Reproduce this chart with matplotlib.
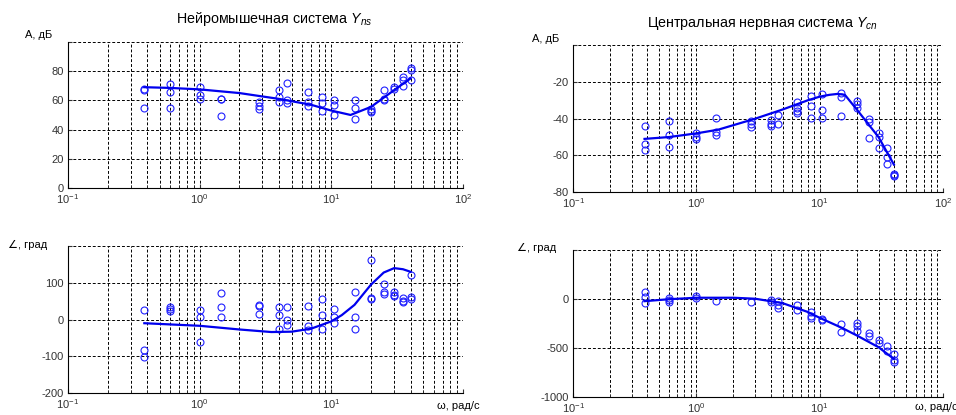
import matplotlib
matplotlib.use("Agg")
import matplotlib.pyplot as plt
from matplotlib.ticker import LogLocator, NullFormatter, FixedLocator

plt.rcParams['font.family'] = ['Liberation Sans', 'DejaVu Sans']
plt.rcParams['mathtext.fontset'] = 'custom'
plt.rcParams['mathtext.rm'] = 'Liberation Sans'
plt.rcParams['mathtext.it'] = 'Liberation Sans:italic'

# measured frequencies, rad/s
w = [0.38, 0.6, 1.0, 1.45, 2.8, 4.0, 4.6, 6.6, 8.5, 10.5, 15, 20, 25, 30, 35, 40]

# neuromuscular system Y_ns
amp_ns = [[68, 67, 55], [71, 66, 55], [69, 64, 61], [61, 61, 49], [59, 56, 54],
          [67, 62, 59], [72, 60, 58], [66, 59, 56], [62, 58, 53], [60, 57, 50],
          [60, 55, 47], [54, 52, 53], [67, 61, 60], [69, 68], [76, 74, 70],
          [82, 81, 74]]
ph_ns = [[25, -82, -102], [33, 30, 22], [25, 8, -60], [73, 33, 7], [40, 38, 15],
         [35, 12, -25], [34, 0, -15], [36, -18, -28], [55, 12, -25], [28, 8, -10],
         [75, 7, -27], [163, 60, 57], [98, 75, 70], [75, 68, 63], [60, 50, 47],
         [122, 62, 55]]

# central nervous system Y_cn
amp_cn = [[-44, -54, -57], [-41, -49, -55.5], [-48, -50, -51], [-39.5, -47, -49],
          [-41, -43, -44.5], [-40.5, -43, -44], [-38, -43], [-31, -34, -36, -37],
          [-27.5, -33, -39.5], [-26.5, -35.5, -39.5], [-26, -28, -38.5],
          [-30.5, -32, -34], [-40, -42, -50.5], [-48, -50, -56], [-56, -61, -64.5],
          [-70, -70.5, -71]]
ph_cn = [[70, 20, -40], [10, -10, -30], [30, 10], [-20], [-30], [-10, -30],
         [-20, -60, -90], [-60, -110], [-130, -170, -190], [-200, -210],
         [-250, -330], [-240, -270, -320], [-350, -380], [-420, -450],
         [-480, -530], [-560, -620, -640]]

# fitted curves
wc_amp_ns = [0.38, 0.6, 1, 2, 4, 7, 10, 14, 20, 30, 40]
c_amp_ns = [69, 68.5, 67.5, 65, 61, 57, 53, 50, 55.5, 67, 75]
wc_ph_ns = [0.38, 1, 2, 3.5, 5, 7, 10, 12, 15, 20, 25, 30, 35, 40]
c_ph_ns = [-10, -17, -27, -34, -33, -25, -5, 12, 40, 95, 128, 140, 137, 130]
wc_amp_cn = [0.38, 0.6, 1, 1.5, 3, 5, 8, 10, 12, 14, 16, 20, 30, 40]
c_amp_cn = [-51, -50, -48, -46, -40, -35, -30, -28, -27, -26.5, -27, -35, -50, -65]
wc_ph_cn = [0.38, 0.6, 1, 2, 3, 5, 8, 10, 15, 20, 30, 40]
c_ph_cn = [-20, 0, 15, 15, 5, -40, -130, -190, -290, -370, -490, -610]


def expand(freqs, groups):
    xs, ys = [], []
    for f, g in zip(freqs, groups):
        for v in g:
            xs.append(f)
            ys.append(v)
    return xs, ys


def setup(ax, ylim, yticks, ylabels, last_xlabel=True):
    ax.set_xscale('log')
    ax.set_xlim(0.1, 100)
    ax.set_ylim(*ylim)
    ax.yaxis.set_major_locator(FixedLocator(yticks))
    ax.set_yticklabels(ylabels)
    ax.xaxis.set_major_locator(FixedLocator([0.1, 1, 10, 100]))
    ax.xaxis.set_minor_locator(LogLocator(base=10, subs=range(2, 10), numticks=20))
    ax.xaxis.set_minor_formatter(NullFormatter())
    last = r'$10^{2}$' if last_xlabel else ''
    ax.set_xticklabels([r'$10^{-1}$', r'$10^{0}$', r'$10^{1}$', last])
    ls = (0, (3, 2))
    ax.grid(True, which='both', axis='x', color='k', linestyle=ls, linewidth=0.7)
    ax.grid(True, which='major', axis='y', color='k', linestyle=ls, linewidth=0.7)
    ax.tick_params(which='both', direction='in', labelsize=8, length=3,
                   colors='#333333', pad=3)
    ax.tick_params(which='minor', length=2)
    for s in ['top', 'right']:
        ax.spines[s].set_visible(False)
    for s in ['left', 'bottom']:
        ax.spines[s].set_linewidth(0.8)


def draw(ax, freqs, groups, wc, c):
    xs, ys = expand(freqs, groups)
    ax.plot(xs, ys, 'o', mfc='none', mec='#2020ff', ms=5, mew=0.8)
    ax.plot(wc, c, color='#0000ee', lw=1.6)


fig = plt.figure(figsize=(9.56, 4.15), dpi=100)
ax1 = fig.add_axes([0.0711, 0.547, 0.4132, 0.352])
ax2 = fig.add_axes([0.5994, 0.537, 0.387, 0.354])
ax3 = fig.add_axes([0.0711, 0.053, 0.4132, 0.354])
ax4 = fig.add_axes([0.5994, 0.043, 0.387, 0.354])

setup(ax1, (0, 100), [0, 20, 40, 60, 80, 100], ['0', '20', '40', '60', '80', ''])
draw(ax1, w, amp_ns, wc_amp_ns, c_amp_ns)

setup(ax2, (-80, 0), [-80, -60, -40, -20, 0], ['-80', '-60', '-40', '-20', ''])
draw(ax2, w, amp_cn, wc_amp_cn, c_amp_cn)

setup(ax3, (-200, 200), [-200, -100, 0, 100, 200], ['-200', '-100', '0', '100', ''],
      last_xlabel=False)
draw(ax3, w, ph_ns, wc_ph_ns, c_ph_ns)

setup(ax4, (-1000, 500), [-1000, -500, 0, 500], ['-1000', '-500', '0', ''],
      last_xlabel=False)
draw(ax4, w, ph_cn, wc_ph_cn, c_ph_cn)

fig.text(0.287, 0.955, r'Нейромышечная система $Y_{ns}$', ha='center', va='center', fontsize=10.3)
fig.text(0.797, 0.943, r'Центральная нервная система $Y_{cn}$', ha='center', va='center', fontsize=10.3)

fig.text(0.026, 0.915, 'A, дБ', ha='left', va='center', fontsize=8)
fig.text(0.557, 0.905, 'A, дБ', ha='left', va='center', fontsize=8)
fig.text(0.008, 0.41, '∠, град', ha='left', va='center', fontsize=8)
fig.text(0.541, 0.403, '∠, град', ha='left', va='center', fontsize=8)
fig.text(0.457, 0.022, 'ω, рад/с', ha='left', va='center', fontsize=8)
fig.text(0.957, 0.019, 'ω, рад/с', ha='left', va='center', fontsize=8)

fig.savefig('out.png', dpi=100)
